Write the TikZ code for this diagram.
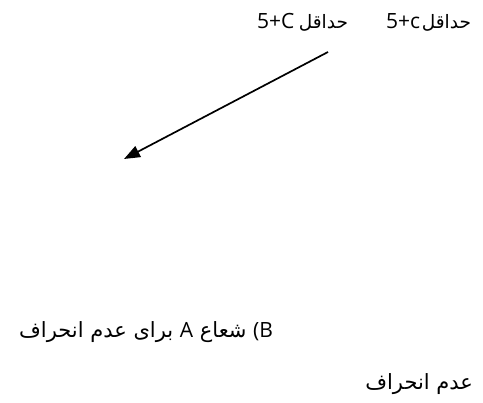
\documentclass[tikz,border=0pt]{standalone}
\usepackage{fontspec}
\usetikzlibrary{arrows.meta}
\TeXXeTstate=1
\newfontfamily\arfont[Script=Arabic]{DejaVu Sans}
\newfontfamily\lafont{Open Sans}
\newcommand{\arsize}{\fontsize{21}{25}\selectfont}
\newcommand{\arsmall}{\fontsize{18.5}{22}\selectfont}
\newcommand{\lasize}{\fontsize{21}{25}\selectfont}
\tikzset{
  txt/.style={inner sep=0pt, outer sep=0pt, text=black},
  latin/.style={txt, font=\lafont\lasize},
  arabic/.style={txt, font=\arfont\arsize},
  arabicsmall/.style={txt, font=\arfont\arsmall},
  pointer/.style={line width=1.7pt, -{Triangle[length=16pt,width=12pt]}}
}
\begin{document}
\begin{tikzpicture}[x=1pt,y=-1pt]
\useasboundingbox[fill=white] (0,0) rectangle (483,403);
% top line
\node[latin, anchor=base west] (c1) at (257,29) {5+C};
\node[arabicsmall, anchor=base east] (h1) at (348,29) {\beginR حداقل\endR};
\node[latin, anchor=base west] (c2) at (386,29) {5+c};
\node[arabicsmall, anchor=base east] (h2) at (471,29) {\beginR حداقل\endR};
% arrow
\coordinate (from) at (328,52);
\coordinate (to) at (124,159);
\draw[pointer] (from) -- (to);
% bottom lines
\node[arabic, anchor=base east] (l1) at (273,338) {\beginR{\lafont\lasize\beginL(B\endL} شعاع {\lafont\lasize A} برای عدم انحراف\endR};
\node[arabic, anchor=base east] (l2) at (473,390) {\beginR عدم انحراف\endR};
\end{tikzpicture}
\end{document}
